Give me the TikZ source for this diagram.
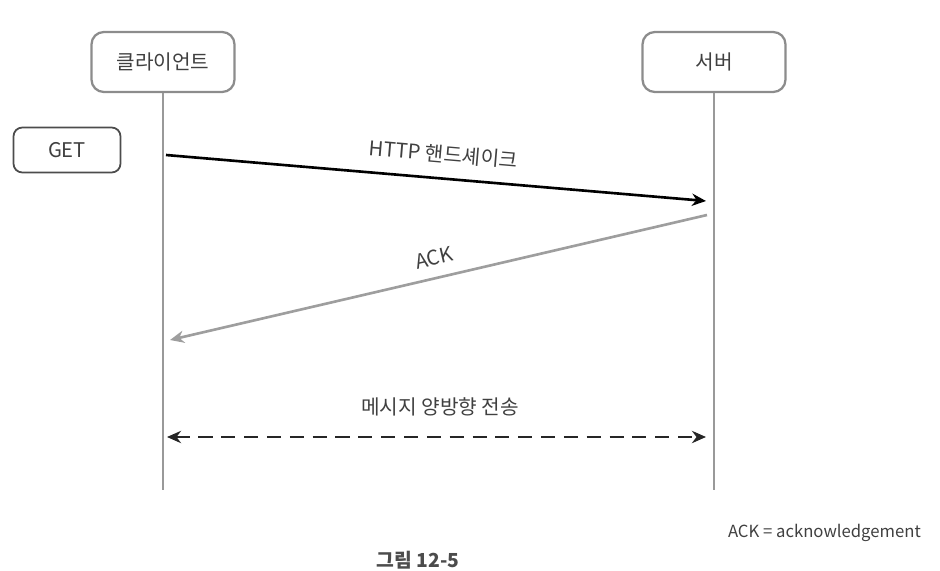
\documentclass[tikz,border=0pt]{standalone}
\usepackage{fontspec}
\setmainfont{Noto Sans CJK KR}
\usetikzlibrary{arrows.meta,positioning,calc}

\begin{document}
\begin{tikzpicture}[x = 0.02cm, y = -0.02cm, > = {Stealth[length = 8pt, width = 7pt]},
    font = \fontsize{11.5}{13}\selectfont, text = black!75]
    \tikzset{
      actor/.style = {draw = black!45, line width = 1.3pt, rounded corners = 7pt,
        minimum width = 2.86cm, minimum height = 1.2cm, fill = white},
      request/.style = {draw = black!70, line width = 1pt, rounded corners = 5pt,
        minimum width = 2.14cm, minimum height = 0.9cm},
      lifeline/.style = {draw = black!40, line width = 1.5pt},
      message/.style = {line width = 1.5pt},
      label/.style = {sloped, above = 0.28cm, inner sep = 0pt, text = black!75},
    }

    \clip (0, 0) rectangle (940, 571);

    \node [actor] (client) at (163, 62) {클라이언트};
    \node [actor] (server) at (714, 62) {서버};
    \node [request] (get) at (67, 150) {GET};

    \coordinate (clientend) at (163, 490);
    \coordinate (serverend) at (714, 490);
    \draw [lifeline] (client) -- (clientend);
    \draw [lifeline] (server) -- (serverend);

    \coordinate (hs0) at (166, 155);
    \coordinate (hs1) at (706, 201);
    \draw [message, ->, black] (hs0) -- node[label, pos = 0.51]{HTTP 핸드셰이크} (hs1);

    \coordinate (ack0) at (707, 215);
    \coordinate (ack1) at (170, 340);
    \draw [message, ->, black!38] (ack0) -- node[label, pos = 0.5, above = 0.22cm]{ACK} (ack1);

    \coordinate (msg0) at (167, 437);
    \coordinate (msg1) at (706, 437);
    \draw [message, <->, dashed, dash pattern = on 8pt off 5pt, line width = 1.7pt, black!85] (msg0) -- (msg1);
    \node (msglabel) at (440, 407) {메시지 양방향 전송};

    \node [anchor = east, font = \fontsize{9.5}{11}\selectfont] (note) at (927, 533) {ACK = acknowledgement};
    \node [font = \fontsize{11}{13}\selectfont\bfseries, text = black!70] (caption) at (418, 560) {그림 12-5};
  \end{tikzpicture}
\end{document}
